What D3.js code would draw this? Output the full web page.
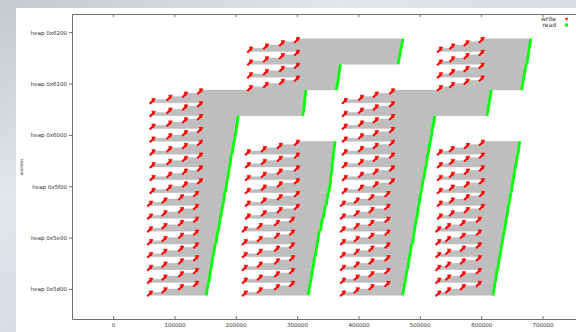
<!DOCTYPE html>
<html><head><meta charset="utf-8">
<script src="https://cdn.jsdelivr.net/npm/d3@7"></script>
<style>html,body{margin:0;padding:0;overflow:hidden;background:#fff}svg{display:block}</style>
</head><body>
<svg id="c" width="576" height="332"></svg>
<script>
// ---------- data ----------
const xTicks = [0, 100000, 200000, 300000, 400000, 500000, 600000, 700000];
const yTicks = [0x5d00, 0x5e00, 0x5f00, 0x6000, 0x6100, 0x6200];
const yTickLabels = ["heap 0x5d00", "heap 0x5e00", "heap 0x5f00", "heap 0x6000", "heap 0x6100", "heap 0x6200"];
const legendLabels = ["write", "read"];

// block A (first burst, 16 rows)
const addrA = [0x5ce0,0x5d20,0x5d60,0x5da0,0x5de0,0x5e20,0x5e60,0x5ea0,0x5ee0,0x5f20,0x5f60,0x5fa0,0x5fe0,0x6020,0x6060,0x60a0];
const writesA = [
  [60000,83500,110500,135000],[60000,83500,110500,135000],[60000,83500,110500,135000],[60000,83500,110500,135000],
  [60000,83500,110500,135000],[60000,83500,110500,135000],[60000,83500,110500,135000],[60000,83500,110500,135000],
  [64000,91500,117000,141500],[64000,91500,117000,141500],[64000,91500,117000,141500],[64000,91500,117000,141500],
  [64000,91500,117000,141500],[64000,91500,117000,141500],[64000,91500,117000,141500],[64000,91500,117000,141500]];
const readStartA = [152000,156000,159500,163000,167500,171500,175000,179000,183000,186500,190000,194000,197500,201000,309000,311500];
const readEndA   = [155000,159000,162500,166500,170500,174500,178500,182000,186000,189500,193000,197000,201000,204000,312500,314500];

// block B (second burst, 12 low rows + 4 high rows)
const addrB = [0x5ce0,0x5d20,0x5d60,0x5da0,0x5de0,0x5e20,0x5e60,0x5ea0,0x5ee0,0x5f20,0x5f60,0x5fa0,0x60e0,0x6120,0x6160,0x61a0];
const writesB = [
  [214500,239000,267000,291500],[214500,239000,267000,291500],[214500,239000,267000,291500],
  [214500,239000,267000,291500],[214500,239000,267000,291500],[214500,239000,267000,291500],
  [219500,245500,271500,299500],[219500,245500,271500,299500],[219500,245500,271500,299500],
  [219500,245500,271500,299500],[219500,245500,271500,299500],[219500,245500,271500,299500],
  [223000,249000,275000,299500],[223000,249000,275000,299500],[223000,249000,275000,299500],[223000,249000,275000,299500]];
const readStartB = [318000,322000,325500,329500,333000,338000,342500,347500,351500,354000,356500,359000,364000,367500,464500,468500];
const readEndB   = [321500,325000,328500,332500,336000,341000,346000,350500,355000,357500,359500,362000,367500,370500,468500,472500];

// block C (third burst, 16 rows)
const addrC = [0x5ce0,0x5d20,0x5d60,0x5da0,0x5de0,0x5e20,0x5e60,0x5ea0,0x5ee0,0x5f20,0x5f60,0x5fa0,0x5fe0,0x6020,0x6060,0x60a0];
const writesC = [
  [374500,397000,421000,447000],[374500,397000,421000,447000],[374500,397000,421000,447000],[374500,397000,421000,447000],
  [374500,397000,421000,447000],[374500,397000,421000,447000],[374500,397000,421000,447000],[374500,397000,421000,447000],
  [377500,404000,428000,454500],[377500,404000,428000,454500],[377500,404000,428000,454500],[377500,404000,428000,454500],
  [377500,404000,428000,454500],[377500,404000,428000,454500],[377500,404000,428000,454500],[377500,404000,428000,454500]];
const readStartC = [472000,476000,480000,483500,488000,491000,495000,498500,502000,506000,510000,513500,517500,521000,609500,613000];
const readEndC   = [475500,479000,483000,486500,491000,494500,498000,501500,505500,509500,513000,517000,520500,524500,613000,616500];

// block D (fourth burst, 12 low rows + 4 high rows)
const addrD = [0x5ce0,0x5d20,0x5d60,0x5da0,0x5de0,0x5e20,0x5e60,0x5ea0,0x5ee0,0x5f20,0x5f60,0x5fa0,0x60e0,0x6120,0x6160,0x61a0];
const writesD = [
  [530000,546000,570000,596000],[530000,546000,570000,596000],[530000,546000,570000,596000],
  [530000,546000,570000,596000],[530000,546000,570000,596000],[530000,546000,570000,596000],
  [532500,552000,576500,601000],[532500,552000,576500,601000],[532500,552000,576500,601000],
  [532500,552000,576500,601000],[532500,552000,576500,601000],[532500,552000,576500,601000],
  [532500,552500,576000,600500],[532500,552500,576000,600500],[532500,552500,576000,600500],[532500,552500,576000,600500]];
const readStartD = [619500,623000,627000,630500,634000,638000,641500,645000,649000,652500,656000,660000,666000,669500,674500,677500];
const readEndD   = [622500,626000,630000,633500,637500,641000,644500,648500,652000,655500,659500,663000,669500,673500,677500,681000];

const ROW = 0x40, CHUNK = 0x10;

// ---------- build ----------
function rowsOf(addr, w, rs, re){ return addr.map((a,i)=>({base:a, w:w[i], rs:rs[i], re:re[i]})); }
const rows = [].concat(
  rowsOf(addrA, writesA, readStartA, readEndA),
  rowsOf(addrB, writesB, readStartB, readEndB),
  rowsOf(addrC, writesC, readStartC, readEndC),
  rowsOf(addrD, writesD, readStartD, readEndD));

const svg = d3.select("#c");
const defs = svg.append("defs");
const grad = defs.append("linearGradient").attr("id","bg").attr("x1",0).attr("y1",0).attr("x2",1).attr("y2",1);
grad.append("stop").attr("offset","0%").attr("stop-color","#c4c9cf");
grad.append("stop").attr("offset","30%").attr("stop-color","#e2e5ea");
grad.append("stop").attr("offset","60%").attr("stop-color","#d5dae2");
grad.append("stop").attr("offset","100%").attr("stop-color","#e8eaef");
svg.append("rect").attr("width",576).attr("height",332).attr("fill","url(#bg)");
svg.append("rect").attr("x",16).attr("y",8).attr("width",560).attr("height",324).attr("fill","#fff");

const x = d3.scaleLinear().domain([-67000, 790000]).range([72, 597.7]);
const y = d3.scaleLinear().domain([23658, 25179]).range([319, 14]);

// gray write->read spans
function poly(r){
  const p = [[r.w[0], r.base],[r.rs, r.base],[r.re, r.base+ROW],[r.w[3], r.base+ROW]];
  for(let c=3;c>=1;c--){ p.push([r.w[c], r.base+CHUNK*c]); p.push([r.w[c-1], r.base+CHUNK*c]); }
  return p.map(q=>[x(q[0]), y(q[1])]);
}
const lineGen = d3.line();
svg.append("g").selectAll("path").data(rows).join("path")
  .attr("d", r=>lineGen(poly(r))+"Z")
  .attr("fill","#bebebe").attr("stroke","#bebebe").attr("stroke-width",0.4);

// reads
svg.append("g").selectAll("line").data(rows).join("line")
  .attr("x1", r=>x(r.rs)).attr("y1", r=>y(r.base))
  .attr("x2", r=>x(r.re)).attr("y2", r=>y(r.base+ROW))
  .attr("stroke","#00ff00").attr("stroke-width",2.8);

// writes
const chunks = [];
rows.forEach(r=>r.w.forEach((t,c)=>chunks.push({t, a:r.base+CHUNK*c+CHUNK/2})));
const wg = svg.append("g").attr("fill","#ff0000").attr("stroke","#ff0000");
wg.selectAll("g").data(chunks).join("g")
  .attr("transform", d=>`translate(${x(d.t)},${y(d.a)})`)
  .call(g=>{
    g.append("path").attr("d","M-2.6,2.6L1,-1").attr("stroke-width",2.1).attr("fill","none");
    g.append("path").attr("d","M-0.6,-2.8L3,-2.8L1.2,0.8Z").attr("stroke-width",0.7);
  });

// axes
const axisColor = "#6e6e6e";
const axB = svg.append("g").attr("transform","translate(0,319)")
  .call(d3.axisBottom(x).tickValues(xTicks).tickSize(-3).tickSizeOuter(0).tickPadding(4).tickFormat(d3.format("d")));
const axT = svg.append("g").attr("transform","translate(0,14)")
  .call(d3.axisTop(x).tickValues(xTicks).tickSize(-3).tickSizeOuter(0).tickFormat(""));
const axL = svg.append("g").attr("transform","translate(72,0)")
  .call(d3.axisLeft(y).tickValues(yTicks).tickSize(3).tickSizeOuter(0).tickPadding(2).tickFormat((d,i)=>yTickLabels[i]));
[axB, axT, axL].forEach(a=>{
  a.selectAll("path,line").attr("stroke",axisColor);
  a.selectAll("text").attr("fill","#333").attr("font-family","DejaVu Sans").attr("font-size",5.5);
});

svg.append("text").attr("transform","translate(23,167) rotate(-90)")
  .attr("text-anchor","middle").attr("font-family","DejaVu Sans").attr("font-size",4.3).attr("fill","#333")
  .text("address");

// legend
const lg = svg.append("g").attr("font-family","DejaVu Sans").attr("font-size",6).attr("fill","#333");
lg.append("text").attr("x",556).attr("y",20.8).attr("text-anchor","end").text(legendLabels[0]);
lg.append("text").attr("x",556).attr("y",26.8).attr("text-anchor","end").text(legendLabels[1]);
lg.append("path").attr("d","M564.5,17.8L568.5,17.8L566.5,21Z").attr("fill","#ff3030");
lg.append("rect").attr("x",565).attr("y",23.5).attr("width",3).attr("height",3).attr("fill","#00ff00");
</script>
</body></html>
